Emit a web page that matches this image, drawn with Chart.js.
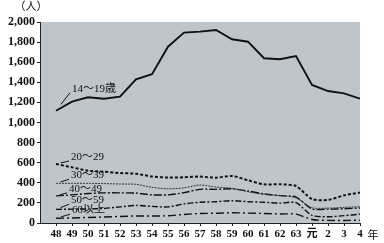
<!DOCTYPE html>
<html>
<head>
<meta charset="utf-8">
<script src="https://cdn.jsdelivr.net/npm/chart.js@4/dist/chart.umd.min.js"></script>
<style>
    body { margin: 0; background: #fff; }
    canvas { display: block; }
</style>
</head>
<body>
<canvas id="chart" width="384" height="243"></canvas>
<script>
    const years = ['48', '49', '50', '51', '52', '53', '54', '55', '56', '57', '58', '59', '60', '61', '62', '63', '元', '2', '3', '4'];

    const age14to19 = [1117, 1207, 1251, 1237, 1257, 1430, 1480, 1754, 1894, 1904, 1920, 1828, 1804, 1639, 1629, 1662, 1373, 1313, 1290, 1237];
    const age20to29 = [587, 554, 520, 510, 497, 490, 463, 452, 455, 462, 451, 468, 425, 385, 385, 368, 238, 230, 275, 303];
    const age30to39 = [395, 395, 395, 392, 388, 385, 355, 340, 350, 378, 358, 345, 311, 285, 273, 250, 152, 148, 155, 162];
    const age40to49 = [270, 280, 293, 300, 300, 298, 280, 280, 302, 335, 335, 340, 318, 290, 272, 258, 140, 138, 142, 150];
    const age50to59 = [136, 138, 140, 145, 160, 175, 165, 160, 190, 206, 212, 222, 212, 206, 198, 202, 75, 62, 73, 88];
    const age60plus = [47, 50, 55, 60, 65, 70, 70, 72, 85, 95, 97, 102, 98, 95, 90, 88, 35, 26, 25, 28];

    const seriesNames = ['14～19歳', '20～29', '30～39', '40～49', '50～59', '60以上'];
    const yTicks = [0, 200, 400, 600, 800, 1000, 1200, 1400, 1600, 1800, 2000];

    const serif = "'Liberation Serif', 'Noto Sans CJK JP', serif";

    const toPoints = values => values.map((v, i) => ({ x: i, y: v }));

    // label offsets from the first point of each line
    const labelOffsets = [
        [16, -22],
        [15, -7],
        [15, -8],
        [13, -7],
        [15, -9],
        [16, -8],
    ];

    const backdrop = {
        id: 'backdrop',
        beforeDraw(chart) {
            const { ctx, chartArea: a } = chart;
            ctx.save();
            ctx.fillStyle = '#bfc6cb';
            ctx.fillRect(a.left, a.top, a.right - a.left, a.bottom - a.top);
            ctx.restore();
        }
    };

    const labels = {
        id: 'labels',
        afterDraw(chart) {
            const { ctx, chartArea: a } = chart;
            const xs = chart.scales.x;
            const ys = chart.scales.y;
            ctx.save();
            ctx.fillStyle = '#111';
            ctx.strokeStyle = '#111';
            ctx.lineWidth = 1;
            ctx.textBaseline = 'middle';
            ctx.font = '11px ' + serif;

            chart.data.datasets.forEach((ds, i) => {
                const px = xs.getPixelForValue(0);
                const py = ys.getPixelForValue(ds.data[0].y);
                const [dx, dy] = labelOffsets[i];
                const tx = px + dx;
                const ty = py + dy;
                const ex = tx - 2;
                const ey = ty + 4;
                const sx = px + (ex - px) * 0.35;
                const sy = py + (ey - py) * 0.35;
                ctx.beginPath();
                ctx.moveTo(sx, sy);
                ctx.lineTo(ex, ey);
                ctx.stroke();
                ctx.textAlign = 'left';
                ctx.fillText(seriesNames[i], tx, ty);
            });

            ctx.textAlign = 'center';
            ctx.fillText('（人）', a.left - 9, 7);
            ctx.fillText('年', a.right + 13, 236);
            ctx.restore();
        }
    };

    const lineStyles = [
        { width: 1.9, dash: [] },
        { width: 2, dash: [3, 2] },
        { width: 1, dash: [2, 1] },
        { width: 1.4, dash: [8, 2, 2, 2] },
        { width: 1.4, dash: [6, 2, 2, 2] },
        { width: 1.4, dash: [8, 3, 2, 3] },
    ];

    const allSeries = [age14to19, age20to29, age30to39, age40to49, age50to59, age60plus];

    new Chart(document.getElementById('chart'), {
        type: 'line',
        plugins: [backdrop, labels],
        data: {
            datasets: allSeries.map((values, i) => ({
                label: seriesNames[i],
                data: toPoints(values),
                borderColor: i === 2 ? '#333' : '#111',
                borderWidth: lineStyles[i].width,
                borderDash: lineStyles[i].dash,
                pointRadius: 0,
                tension: i === 0 ? 0 : 0.25,
                fill: false,
            }))
        },
        options: {
            responsive: false,
            animation: false,
            layout: {
                padding: { left: 0, right: 24, top: 22, bottom: 0 }
            },
            plugins: {
                legend: { display: false },
                tooltip: { enabled: false }
            },
            scales: {
                x: {
                    type: 'linear',
                    min: -1,
                    max: years.length - 1,
                    afterBuildTicks(scale) {
                        scale.ticks = years.map((_, i) => ({ value: i }));
                    },
                    afterFit(scale) {
                        scale.height = 20;
                    },
                    border: { color: '#222', width: 1 },
                    grid: {
                        drawOnChartArea: false,
                        color: '#222',
                        tickLength: 3
                    },
                    ticks: {
                        color: '#111',
                        padding: 2,
                        maxRotation: 0,
                        autoSkip: false,
                        font: { family: serif, size: 11, weight: 'bold' },
                        callback: value => years[value] ?? ''
                    }
                },
                y: {
                    min: 0,
                    max: 2000,
                    afterBuildTicks(scale) {
                        scale.ticks = yTicks.map(v => ({ value: v }));
                    },
                    afterFit(scale) {
                        scale.width = 40;
                    },
                    border: { color: '#222', width: 1 },
                    grid: {
                        drawOnChartArea: false,
                        color: '#222',
                        tickLength: 3
                    },
                    ticks: {
                        color: '#111',
                        padding: 2,
                        font: { family: serif, size: 12, weight: 'bold' },
                        callback: value => value.toLocaleString('en-US')
                    }
                }
            }
        }
    });
</script>
</body>
</html>
